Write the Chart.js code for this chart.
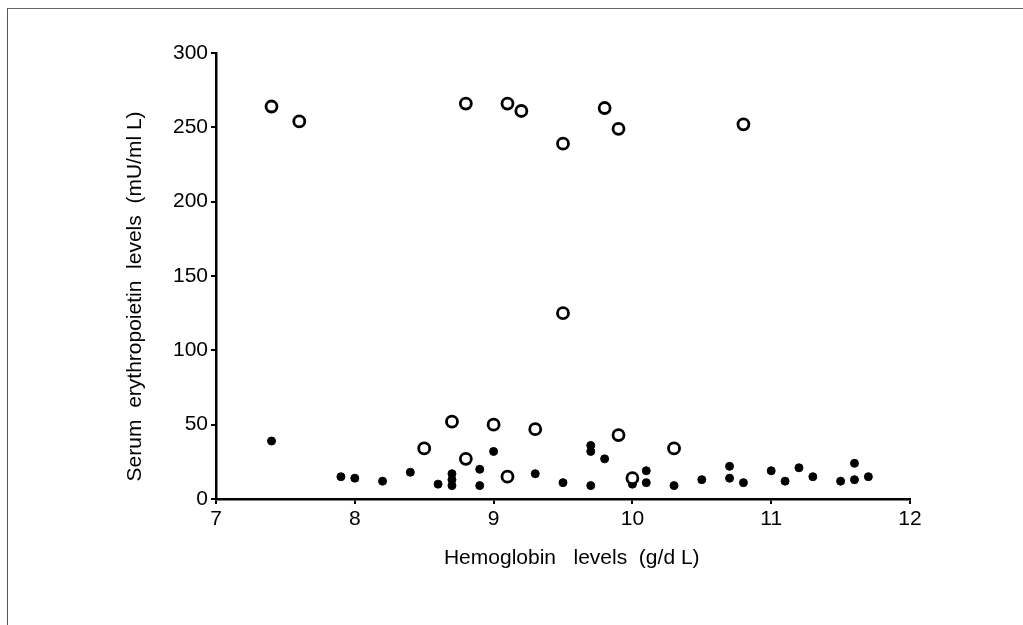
<!DOCTYPE html>
<html>
<head>
<meta charset="utf-8">
<script src="https://cdn.jsdelivr.net/npm/chart.js@4.4.1/dist/chart.umd.min.js"></script>
<style>
  html, body { margin: 0; padding: 0; background: #fff; }
  #wrap { position: relative; width: 1023px; height: 625px; }
  #frame {
    position: absolute; left: 7px; top: 8px; right: 0; bottom: 0;
    border-left: 1px solid #555; border-top: 1px solid #666;
  }
  canvas { position: absolute; left: 0; top: 0; }
</style>
</head>
<body>
<div id="wrap">
  <div id="frame"></div>
  <canvas id="chart" width="1023" height="625"></canvas>
</div>
<script>
// open circles (upper group and a few low ones)
const openX = [7.4, 7.6, 8.8, 9.1, 9.2, 9.5, 9.8, 9.9, 10.8, 9.5, 8.7, 9.0, 9.3, 8.5, 8.8, 9.1, 9.9, 10.3, 10.0];
const openY = [264, 254, 266, 266, 261, 239, 263, 249, 252, 125, 52, 50, 47, 34, 27, 15, 43, 34, 14];

// filled dots
const filledX = [7.4, 7.9, 8.0, 8.2, 8.4, 8.6, 8.7, 8.7, 8.7, 8.9, 8.9, 9.0, 9.3, 9.5, 9.7, 9.7, 9.7, 9.8,
                 10.0, 10.1, 10.1, 10.3, 10.5, 10.7, 10.7, 10.8, 11.0, 11.1, 11.2, 11.3, 11.5, 11.6, 11.6, 11.7];
const filledY = [39, 15, 14, 12, 18, 10, 17, 13, 9, 20, 9, 32, 17, 11, 36, 32, 9, 27,
                 10, 19, 11, 9, 13, 22, 14, 11, 19, 12, 21, 15, 12, 24, 13, 15];

const xTicks = [7, 8, 9, 10, 11, 12];
const yTicks = [0, 50, 100, 150, 200, 250, 300];

const FONT = "'Liberation Sans Narrow', 'Arial Narrow', 'Liberation Sans', Arial, sans-serif";

const toPoints = (xs, ys) => xs.map((x, i) => ({ x, y: ys[i] }));

const axisCommon = {
  type: 'linear',
  grid: {
    display: true,
    drawOnChartArea: false,
    drawTicks: true,
    tickLength: 5,
    color: '#000',
    lineWidth: 2
  },
  border: { display: true, color: '#000', width: 2.5 },
};

new Chart(document.getElementById('chart'), {
  type: 'scatter',
  data: {
    datasets: [
      {
        label: 'open',
        data: toPoints(openX, openY),
        pointStyle: 'circle',
        pointRadius: 5.5,
        pointBorderWidth: 2.8,
        pointBorderColor: '#000',
        pointBackgroundColor: '#fff'
      },
      {
        label: 'filled',
        data: toPoints(filledX, filledY),
        pointStyle: 'circle',
        pointRadius: 4,
        pointBorderWidth: 1,
        pointBorderColor: '#000',
        pointBackgroundColor: '#000'
      }
    ]
  },
  options: {
    responsive: false,
    animation: false,
    layout: { padding: { left: 115, right: 113, top: 53, bottom: 50 } },
    plugins: {
      legend: { display: false },
      tooltip: { enabled: false }
    },
    scales: {
      x: {
        ...axisCommon,
        min: 7,
        max: 12,
        afterBuildTicks: s => { s.ticks = xTicks.map(v => ({ value: v })); },
        afterFit: s => { s.height = 76; },
        ticks: { color: '#000', font: { family: FONT, size: 21 }, padding: 3 },
        title: {
          display: true,
          // leading spaces push the text a little right, as in the original
          text: '   Hemoglobin   levels  (g/d L)',
          color: '#000',
          font: { family: FONT, size: 21 },
          padding: { top: 0, bottom: 4 }
        }
      },
      y: {
        ...axisCommon,
        min: 0,
        max: 300,
        afterBuildTicks: s => { s.ticks = yTicks.map(v => ({ value: v })); },
        afterFit: s => { s.width = 101; },
        ticks: { color: '#000', font: { family: FONT, size: 21 }, padding: 3 },
        title: {
          display: true,
          // trailing spaces nudge the visible text down, like the original
          text: 'Serum  erythropoietin  levels  (mU/ml L)       ',
          color: '#000',
          font: { family: FONT, size: 21 },
          padding: { top: 8, bottom: 0 }
        }
      }
    }
  }
});
</script>
</body>
</html>
